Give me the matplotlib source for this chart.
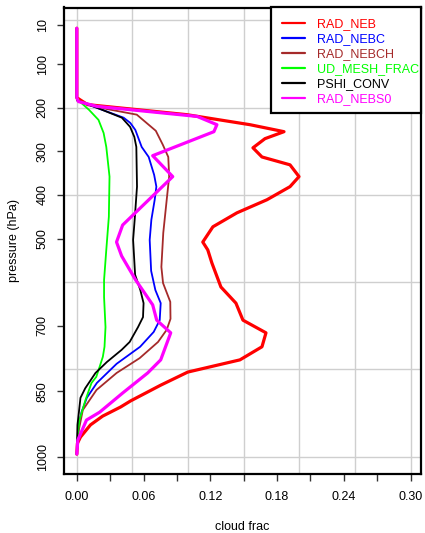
import matplotlib
matplotlib.use("Agg")
import matplotlib.pyplot as plt
from matplotlib.patches import Rectangle
import numpy as np

plt.rcParams['font.family'] = ['Liberation Sans', 'DejaVu Sans']

# ---- data (pressure in hPa, cloud fraction) ----
p_neb = [18, 177, 193, 216, 239, 255, 271, 292, 313, 331, 358, 381, 411, 441, 473, 508, 526, 556,
         611, 648, 687, 716, 748, 778, 806, 836, 872, 886, 907, 927, 955, 969, 994]
f_neb = [0, 0, 0.0096, 0.0988, 0.1556, 0.1862, 0.1691, 0.1583, 0.1664, 0.1916, 0.1997, 0.1916,
         0.1709, 0.1439, 0.1223, 0.1132, 0.1177, 0.1214, 0.1295, 0.1430, 0.1493, 0.1700, 0.1664,
         0.1466, 0.0997, 0.0754, 0.0484, 0.0394, 0.0232, 0.0123, 0.0033, 0.0006, 0]

p_nebc = [18, 177, 184, 223, 235, 251, 290, 313, 354, 381, 411, 457, 503, 574, 618, 648, 687,
          714, 748, 787, 831, 865, 898, 934, 994]
f_nebc = [0, 0, 0.0006, 0.0421, 0.0481, 0.0526, 0.0583, 0.0646, 0.0695, 0.0715, 0.0700, 0.0670,
          0.0655, 0.0668, 0.0706, 0.0754, 0.0745, 0.0691, 0.0569, 0.0358, 0.0180, 0.0090, 0.0042,
          0.0015, 0]

p_nebch = [18, 177, 184, 203, 216, 253, 285, 313, 358, 411, 487, 565, 602, 645, 684, 709, 737,
           774, 808, 847, 893, 939, 994]
f_nebch = [0, 0, 0.0006, 0.0268, 0.0539, 0.0710, 0.0773, 0.0822, 0.0830, 0.0808, 0.0777, 0.0760,
           0.0775, 0.0840, 0.0842, 0.0808, 0.0730, 0.0565, 0.0358, 0.0177, 0.0054, 0.0018, 0]

p_mesh = [18, 177, 182, 205, 228, 258, 290, 358, 450, 526, 595, 634, 703, 748, 771, 794, 817, 831,
          870, 916, 946, 994]
f_mesh = [0, 0, 0.0009, 0.0110, 0.0195, 0.0241, 0.0265, 0.0294, 0.0288, 0.0265, 0.0245, 0.0245,
          0.0258, 0.0249, 0.0234, 0.0205, 0.0175, 0.0132, 0.0078, 0.0024, 0.0009, 0]

p_pshi = [18, 177, 184, 200, 223, 244, 267, 290, 381, 457, 503, 583, 618, 648, 680, 703, 737, 755,
          783, 808, 843, 865, 900, 927, 994]
f_pshi = [0, 0, 0.0006, 0.0180, 0.0405, 0.0479, 0.0517, 0.0535, 0.0541, 0.0520, 0.0506, 0.0524,
          0.0571, 0.0600, 0.0595, 0.0550, 0.0475, 0.0403, 0.0270, 0.0168, 0.0076, 0.0033, 0.0018,
          0.0006, 0]

p_nebs0 = [18, 177, 186, 197, 220, 239, 255, 310, 358, 469, 508, 540, 595, 625, 652, 687, 716,
           778, 808, 854, 898, 916, 962, 994]
f_nebs0 = [0, 0, 0.0015, 0.0180, 0.1081, 0.1259, 0.1232, 0.0682, 0.0862, 0.0412, 0.0357, 0.0403,
           0.0529, 0.0610, 0.0682, 0.0718, 0.0844, 0.0754, 0.0637, 0.0412, 0.0205, 0.0087, 0.0009, 0]

series_names = ["RAD_NEB", "RAD_NEBC", "RAD_NEBCH", "UD_MESH_FRAC", "PSHI_CONV", "RAD_NEBS0"]
series_p = [p_neb, p_nebc, p_nebch, p_mesh, p_pshi, p_nebs0]
series_f = [f_neb, f_nebc, f_nebch, f_mesh, f_pshi, f_nebs0]

ytick_values = [10, 100, 200, 300, 400, 500, 700, 850, 1000]
ytick_labels = ["10", "100", "200", "300", "400", "500", "700", "850", "1000"]
xtick_values = [0.00, 0.03, 0.06, 0.09, 0.12, 0.15, 0.18, 0.21, 0.24, 0.27, 0.30]
xtick_labels = ["0.00", "", "0.06", "", "0.12", "", "0.18", "", "0.24", "", "0.30"]
xgrid = [0.00, 0.05, 0.10, 0.15, 0.20, 0.25, 0.30]
ygrid = [0, 200, 400, 600, 800, 1000]

# ---- styles ----
colors = ["#FF0000", "#0000FF", "#A52A2A", "#00FF00", "#000000", "#FF00FF"]
widths = [2.3, 1.3, 1.3, 1.3, 1.3, 2.3]

W, H = 425, 533
fig = plt.figure(figsize=(W / 100, H / 100), dpi=100)
ax = fig.add_axes([64 / W, 1 - 474 / H, (421 - 64) / W, (474 - 7.5) / H])

for g in xgrid:
    ax.axvline(g, color="#CFCFCF", lw=1.0, zorder=0)
for g in ygrid:
    ax.axhline(g, color="#CFCFCF", lw=1.0, zorder=0)

for name, p, f, c, w in zip(series_names, series_p, series_f, colors, widths):
    ax.plot(f, p, color=c, lw=w, label=name, solid_capstyle="round", solid_joinstyle="round")

ax.set_xlim(-0.0115, 0.3093)
ax.set_ylim(1039.6, -29.6)

ax.set_xticks(xtick_values)
ax.set_xticklabels(xtick_labels)
ax.set_yticks(ytick_values)
ax.set_yticklabels(ytick_labels, rotation=90, va="center")

ax.tick_params(axis="both", direction="out", length=5, width=1.0, labelsize=9, color="#333333")
ax.tick_params(axis="x", pad=7)
ax.tick_params(axis="y", pad=6)

for s in ax.spines.values():
    s.set_linewidth(1.6)
    s.set_color("black")

ax.set_xlabel("cloud frac", fontsize=9, labelpad=13)
ax.set_ylabel("pressure (hPa)", fontsize=9, labelpad=12)

# legend frame drawn as a box in the top-right corner
ax.add_patch(Rectangle((271 / W, 1 - 113 / H), 150 / W, 105.5 / H, transform=fig.transFigure,
                       facecolor="white", edgecolor="black", lw=1.6, zorder=4, clip_on=False))
leg = ax.legend(loc="upper left", bbox_to_anchor=(271 / W, 1 - 7.5 / H),
                bbox_transform=fig.transFigure, borderaxespad=0, frameon=False,
                fontsize=9, labelcolor="linecolor",
                handlelength=1.84, handletextpad=0.93, labelspacing=0.24,
                borderpad=0.88)
leg.set_zorder(5)
for line in leg.get_lines():
    line.set_linewidth(1.6)

fig.savefig("out.png", dpi=100)
